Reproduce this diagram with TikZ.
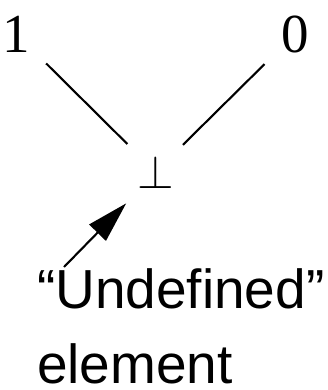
\documentclass[tikz,border=0pt]{standalone}
\usepackage{fontspec}
\setmainfont{Liberation Serif}
\newfontfamily\labelfont{Liberation Sans}
\usetikzlibrary{arrows.meta}

\begin{document}
\begin{tikzpicture}[x=1pt, y=-1pt, line width=2.1pt,
    elem/.style={inner sep=0pt, font=\fontsize{55}{55}\selectfont},
    lbl/.style={inner sep=0pt, font=\labelfont\fontsize{55}{55}\selectfont}]
    \useasboundingbox (0,0) rectangle (328,390);

    % Elements of the lattice
    \node[elem] (one) at (16.5,34) {1};
    \node[elem] (zero) at (295,34) {0};
    \node[inner sep=0pt] (bot) at (155.5,172) {\scalebox{4.7}{$\bot$}};

    % Order edges
    \draw[shorten <=21pt, shorten >=15pt] (one) -- (bot);
    \draw[shorten <=22pt, shorten >=14pt] (zero) -- (bot);

    % Label and pointer
    \node[lbl, anchor=base west] (undef) at (36,308) {“Undefined”};
    \node[lbl, anchor=base west] (element) at (36,383) {element};
    \coordinate (tail) at (64,267);
    \draw[-{Triangle[length=41pt, width=23pt]}] (tail) -- ([shift={(-10,14)}]bot.south west);
\end{tikzpicture}
\end{document}
